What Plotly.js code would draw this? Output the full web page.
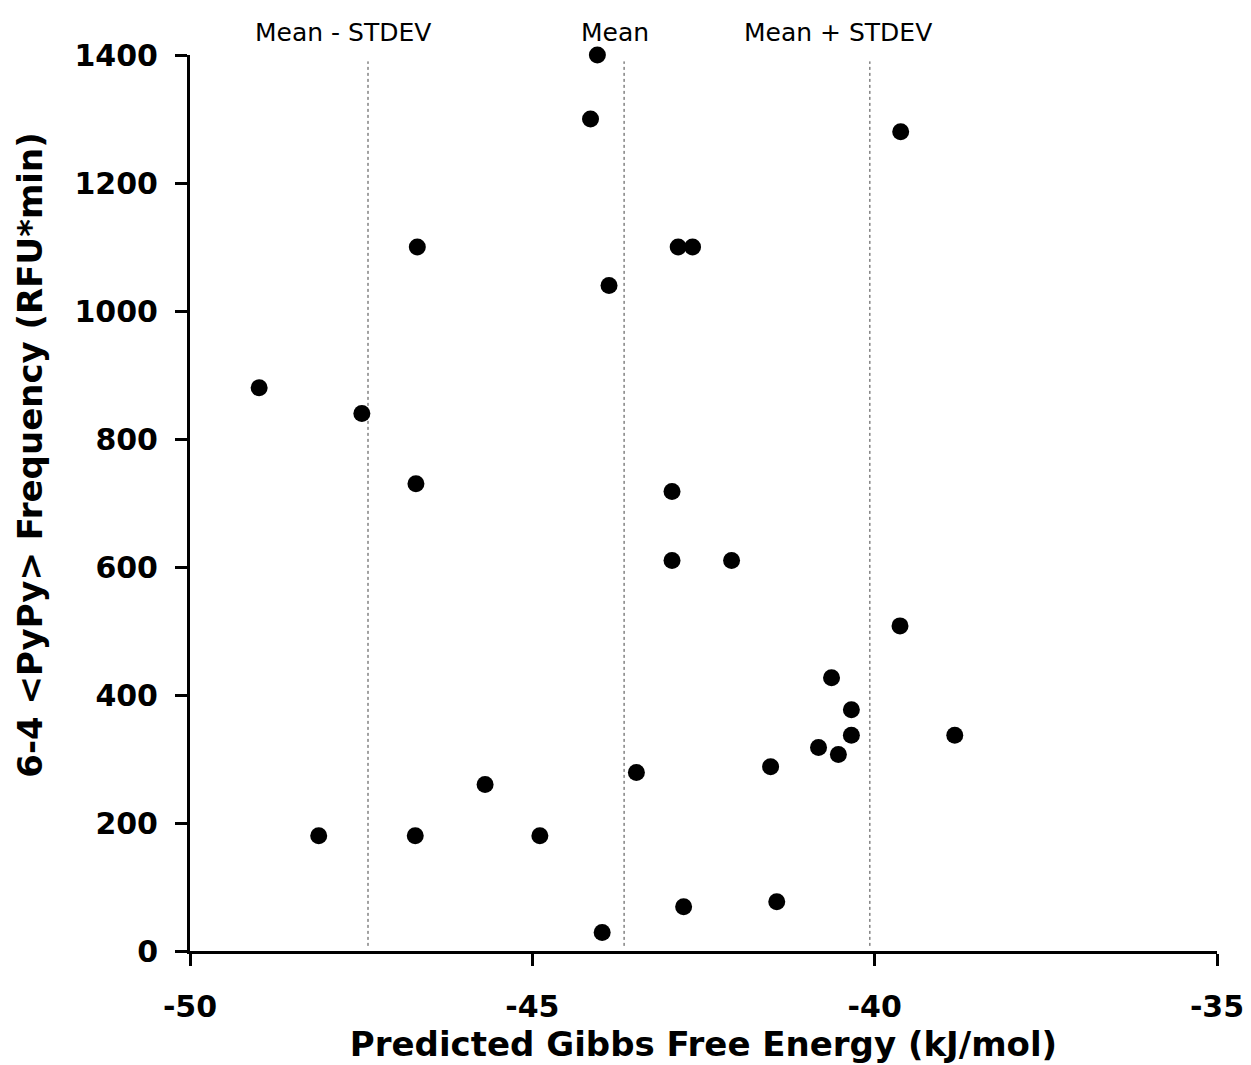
<!DOCTYPE html>
<html>
<head>
<meta charset="utf-8">
<script src="https://cdn.plot.ly/plotly-3.0.1.min.js"></script>
<style>
  html, body { margin: 0; padding: 0; background: #ffffff; }
  #chart { width: 1251px; height: 1065px; }
</style>
</head>
<body>
<div id="chart"></div>
<script>
// Predicted Gibbs free energy (kJ/mol)
const gibbsEnergy = [
  -44.05, -44.15, -39.62, -46.68, -42.87, -42.66, -43.88, -48.99, -47.49, -46.70,
  -42.96, -42.96, -42.09, -39.63, -40.63, -40.34, -40.34, -38.83, -40.82, -40.53,
  -41.52, -43.48, -45.69, -48.12, -46.71, -44.89, -42.79, -41.43, -43.98
];
// 6-4 <PyPy> frequency (RFU*min)
const pypyFrequency = [
  1400, 1300, 1280, 1100, 1100, 1100, 1040, 880, 840, 730,
  718, 610, 610, 508, 427, 377, 337, 337, 318, 307,
  288, 279, 260, 180, 180, 180, 69, 77, 29
];
// Reference lines: Mean - STDEV, Mean, Mean + STDEV
const statLabels = ["Mean - STDEV", "Mean", "Mean + STDEV"];
const statValues = [-47.40, -43.66, -40.07];

const xTickVals = [-50, -45, -40, -35];
const xTickText = ["-50", "-45", "-40", "-35"];
const yTickVals = [0, 200, 400, 600, 800, 1000, 1200, 1400];
const yTickText = ["0", "200", "400", "600", "800", "1000", "1200", "1400"];

const xTitle = "Predicted Gibbs Free Energy (kJ/mol)";
const yTitle = "6-4 &lt;PyPy&gt; Frequency (RFU*min)";

const FONT = "DejaVu Sans, Arial, sans-serif";
const labelShift = [-25, -9, -32];

const trace = {
  type: "scatter",
  mode: "markers",
  x: gibbsEnergy,
  y: pypyFrequency,
  marker: { color: "#000000", size: 17, line: { width: 0 } },
  cliponaxis: false,
  hoverinfo: "x+y"
};

const shapes = statValues.map(v => ({
  type: "line",
  xref: "x", yref: "y",
  x0: v, x1: v, y0: 8, y1: 1390,
  line: { color: "#444444", width: 1, dash: "dot" },
  layer: "below"
}));

const annotations = statLabels.map((t, i) => ({
  text: t,
  xref: "x", yref: "paper",
  x: statValues[i], y: 1.0246,
  xshift: labelShift[i],
  xanchor: "center", yanchor: "middle",
  showarrow: false,
  font: { family: FONT, size: 25, color: "#000000" }
}));

annotations.push({
  text: yTitle,
  xref: "paper", yref: "paper",
  x: -0.156, y: 0.5536,
  xanchor: "center", yanchor: "middle",
  textangle: -90,
  showarrow: false,
  font: { family: FONT, size: 34, color: "#000000", weight: "bold" }
});

const axisCommon = {
  showline: true,
  linecolor: "#000000",
  linewidth: 3,
  ticks: "outside",
  ticklen: 12,
  tickwidth: 3,
  tickcolor: "#000000",
  showgrid: false,
  zeroline: false,
  automargin: false,
  tickfont: { family: FONT, size: 30, color: "#000000", weight: "bold" }
};

const layout = {
  width: 1251,
  height: 1065,
  margin: { l: 190, r: 34, t: 55, b: 114 },
  paper_bgcolor: "#ffffff",
  plot_bgcolor: "#ffffff",
  showlegend: false,
  xaxis: Object.assign({}, axisCommon, {
    range: [-50, -35],
    tickmode: "array",
    tickvals: xTickVals,
    ticktext: xTickText,
    ticklabelstandoff: 15,
    title: {
      text: xTitle,
      standoff: 4,
      font: { family: FONT, size: 34, color: "#000000", weight: "bold" }
    }
  }),
  yaxis: Object.assign({}, axisCommon, {
    range: [0, 1400],
    tickmode: "array",
    tickvals: yTickVals,
    ticktext: yTickText,
    ticklabelstandoff: 11
  }),
  shapes: shapes,
  annotations: annotations
};

Plotly.newPlot("chart", [trace], layout, { displayModeBar: false, staticPlot: true });
</script>
</body>
</html>
